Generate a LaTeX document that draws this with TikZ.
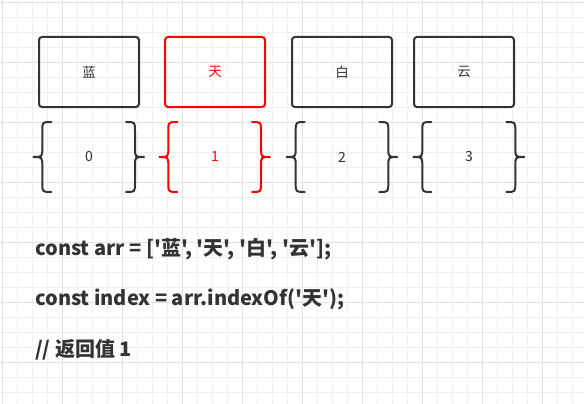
\documentclass[tikz,border=0pt]{standalone}
\usepackage{fontspec}
\setmainfont{Noto Sans CJK SC}
\newfontfamily\codefont{Noto Sans CJK SC}
\definecolor{ink}{HTML}{333333}
\definecolor{hl}{HTML}{FF0000}
\definecolor{gridminor}{HTML}{F0F0F0}
\definecolor{gridmajor}{HTML}{E2E2E2}
\tikzset{
  cell/.style={draw=ink, text=ink, line width=2pt, rounded corners=3pt,
    minimum width=100pt, minimum height=70pt, inner sep=0pt, font=\codefont\fontsize{13.5}{15}\selectfont},
  idx/.style={text=ink, inner sep=0pt, font=\codefont\fontsize{14}{16}\selectfont},
  bracestroke/.style={draw=ink, line width=2pt, line cap=round, line join=round},
  codeline/.style={text=ink, inner sep=0pt, anchor=base west, font=\codefont\fontsize{20}{22}\selectfont\bfseries},
  brace/.pic={\draw[bracestroke,#1] (18,-35) .. controls (9,-35) .. (9,-26) -- (9,-9)
      .. controls (9,0) .. (0,0) .. controls (9,0) .. (9,9) -- (9,26) .. controls (9,35) .. (18,35);},
}
\begin{document}
\begin{tikzpicture}[x=1pt,y=-1pt]
\useasboundingbox (0,0) rectangle (584,404);
\fill[white] (0,0) rectangle (584,404);
% grid
\foreach \i in {0,...,38} \draw[gridminor, line width=1pt] ({2.5+15*\i},0) -- ++(0,404);
\foreach \i in {0,...,26} \draw[gridminor, line width=1pt] (0,{2.5+15*\i}) -- ++(584,0);
\foreach \i in {0,...,9} \draw[gridmajor, line width=1pt] ({2.5+60*\i},0) -- ++(0,404);
\foreach \i in {0,...,6} \draw[gridmajor, line width=1pt] (0,{2.5+60*\i}) -- ++(584,0);
% boxes
\node[cell] (b0) at (89,72) {蓝};
\node[cell, draw=hl, text=hl] (b1) at (215,72) {天};
\node[cell] (b2) at (342,72) {白};
\node[cell] (b3) at (464,72) {云};
% braces
\pic at (33.3,157) {brace={}};
\pic[xscale=-1] at (144,157) {brace={}};
\pic at (159.3,157) {brace={draw=hl}};
\pic[xscale=-1] at (270,157) {brace={draw=hl}};
\pic at (286.7,157) {brace={}};
\pic[xscale=-1] at (397.3,157) {brace={}};
\pic at (413.3,157) {brace={}};
\pic[xscale=-1] at (524.3,157) {brace={}};
% indices
\node[idx] (i0) at (89,157) {0};
\node[idx, text=hl] (i1) at (215,157) {1};
\node[idx] (i2) at (342,157) {2};
\node[idx] (i3) at (469,157) {3};
% code
\node[codeline] (c1) at (35,255) {const arr = ['蓝', '天', '白', '云'];};
\node[codeline] (c2) at (35,305.7) {const index = arr.indexOf('天');};
\node[codeline] (c3) at (35,356) {// 返回值 1};
\end{tikzpicture}
\end{document}
